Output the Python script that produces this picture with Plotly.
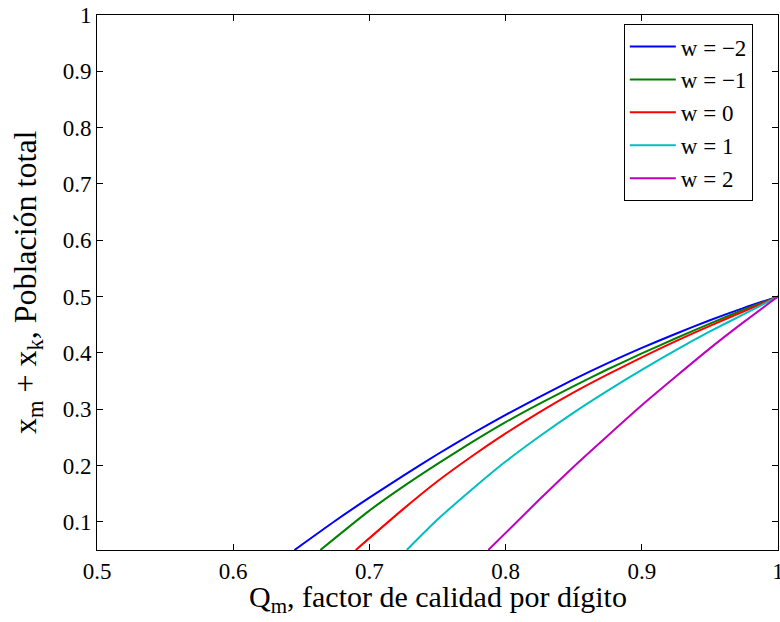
import plotly.graph_objects as go

# Quality factor per digit (x) and total population x_m + x_k (y) for each w
q_w_m2 = [0.645, 0.675, 0.70, 0.725, 0.75, 0.775, 0.80, 0.825, 0.85, 0.875, 0.90, 0.925, 0.95, 0.975, 1.00]
p_w_m2 = [0.050, 0.102, 0.143, 0.182, 0.220, 0.256, 0.290, 0.322, 0.353, 0.382, 0.409, 0.434, 0.458, 0.480, 0.500]

q_w_m1 = [0.664, 0.70, 0.725, 0.75, 0.775, 0.80, 0.825, 0.85, 0.875, 0.90, 0.925, 0.95, 0.975, 1.00]
p_w_m1 = [0.050, 0.120, 0.163, 0.203, 0.241, 0.277, 0.310, 0.341, 0.371, 0.399, 0.426, 0.452, 0.477, 0.500]

q_w_0 = [0.690, 0.725, 0.75, 0.775, 0.80, 0.825, 0.85, 0.875, 0.90, 0.925, 0.95, 0.975, 1.00]
p_w_0 = [0.050, 0.123, 0.172, 0.216, 0.257, 0.295, 0.330, 0.362, 0.392, 0.421, 0.448, 0.474, 0.500]

q_w_1 = [0.7274, 0.75, 0.775, 0.80, 0.825, 0.85, 0.875, 0.90, 0.925, 0.95, 0.975, 1.00]
p_w_1 = [0.050, 0.104, 0.157, 0.207, 0.252, 0.294, 0.333, 0.370, 0.405, 0.438, 0.469, 0.500]

q_w_2 = [0.7873, 0.825, 0.85, 0.875, 0.90, 0.925, 0.95, 0.975, 1.00]
p_w_2 = [0.050, 0.140, 0.198, 0.253, 0.307, 0.358, 0.408, 0.455, 0.500]

series_names = ["w = \u22122", "w = \u22121", "w = 0", "w = 1", "w = 2"]
series_colors = ["#0000FF", "#008000", "#FF0000", "#00BFBF", "#BF00BF"]

x_tickvals = [0.5, 0.6, 0.7, 0.8, 0.9, 1.0]
x_ticktext = ["0.5", "0.6", "0.7", "0.8", "0.9", "1"]
y_tickvals = [0.1, 0.2, 0.3, 0.4, 0.5, 0.6, 0.7, 0.8, 0.9, 1.0]
y_ticktext = ["0.1", "0.2", "0.3", "0.4", "0.5", "0.6", "0.7", "0.8", "0.9", "1"]

x_title = "Q<sub>m</sub>, factor de calidad por dígito"
y_title = "x<sub>m</sub> + x<sub>k</sub>, Población total"

FONT = "Liberation Serif, Times New Roman, serif"

fig = go.Figure()
series = [(q_w_m2, p_w_m2), (q_w_m1, p_w_m1), (q_w_0, p_w_0),
          (q_w_1, p_w_1), (q_w_2, p_w_2)]
for (xs, ys), name, color in zip(series, series_names, series_colors):
    fig.add_trace(go.Scatter(
        x=xs, y=ys, name=name, mode="lines",
        line=dict(color=color, width=2, shape="spline", smoothing=0.6),
    ))

axis_common = dict(
    showgrid=False, zeroline=False, showline=True, linecolor="black",
    linewidth=1, mirror="ticks", ticks="inside", ticklen=6,
    tickcolor="black", tickwidth=1, ticklabeloverflow="allow",
    automargin=False,
    tickfont=dict(family=FONT, size=23, color="black"),
)

# Axis titles placed as annotations relative to the plotting area
fig.add_annotation(
    text=x_title, xref="paper", yref="paper", x=0.5, y=-0.092,
    xanchor="center", yanchor="middle", showarrow=False,
    font=dict(family=FONT, size=30, color="black"),
)
fig.add_annotation(
    text=y_title, xref="paper", yref="paper", x=-0.102, y=0.5,
    xanchor="center", yanchor="middle", textangle=-90, showarrow=False,
    font=dict(family=FONT, size=32, color="black"),
)

fig.update_layout(
    width=780, height=622,
    margin=dict(l=97, r=2, t=15, b=72),
    paper_bgcolor="white", plot_bgcolor="white",
    font=dict(family=FONT, color="black"),
    xaxis=dict(range=[0.5, 1.0], tickvals=x_tickvals, ticktext=x_ticktext,
               **axis_common),
    yaxis=dict(range=[0.05, 1.0], tickvals=y_tickvals, ticktext=y_ticktext,
               **axis_common),
    legend=dict(
        x=0.963, y=0.983, xanchor="right", yanchor="top",
        bgcolor="white", bordercolor="black", borderwidth=1,
        font=dict(family=FONT, size=23, color="black"),
        tracegroupgap=0, itemwidth=46,
    ),
    showlegend=True,
)

fig.write_html("out.html")
